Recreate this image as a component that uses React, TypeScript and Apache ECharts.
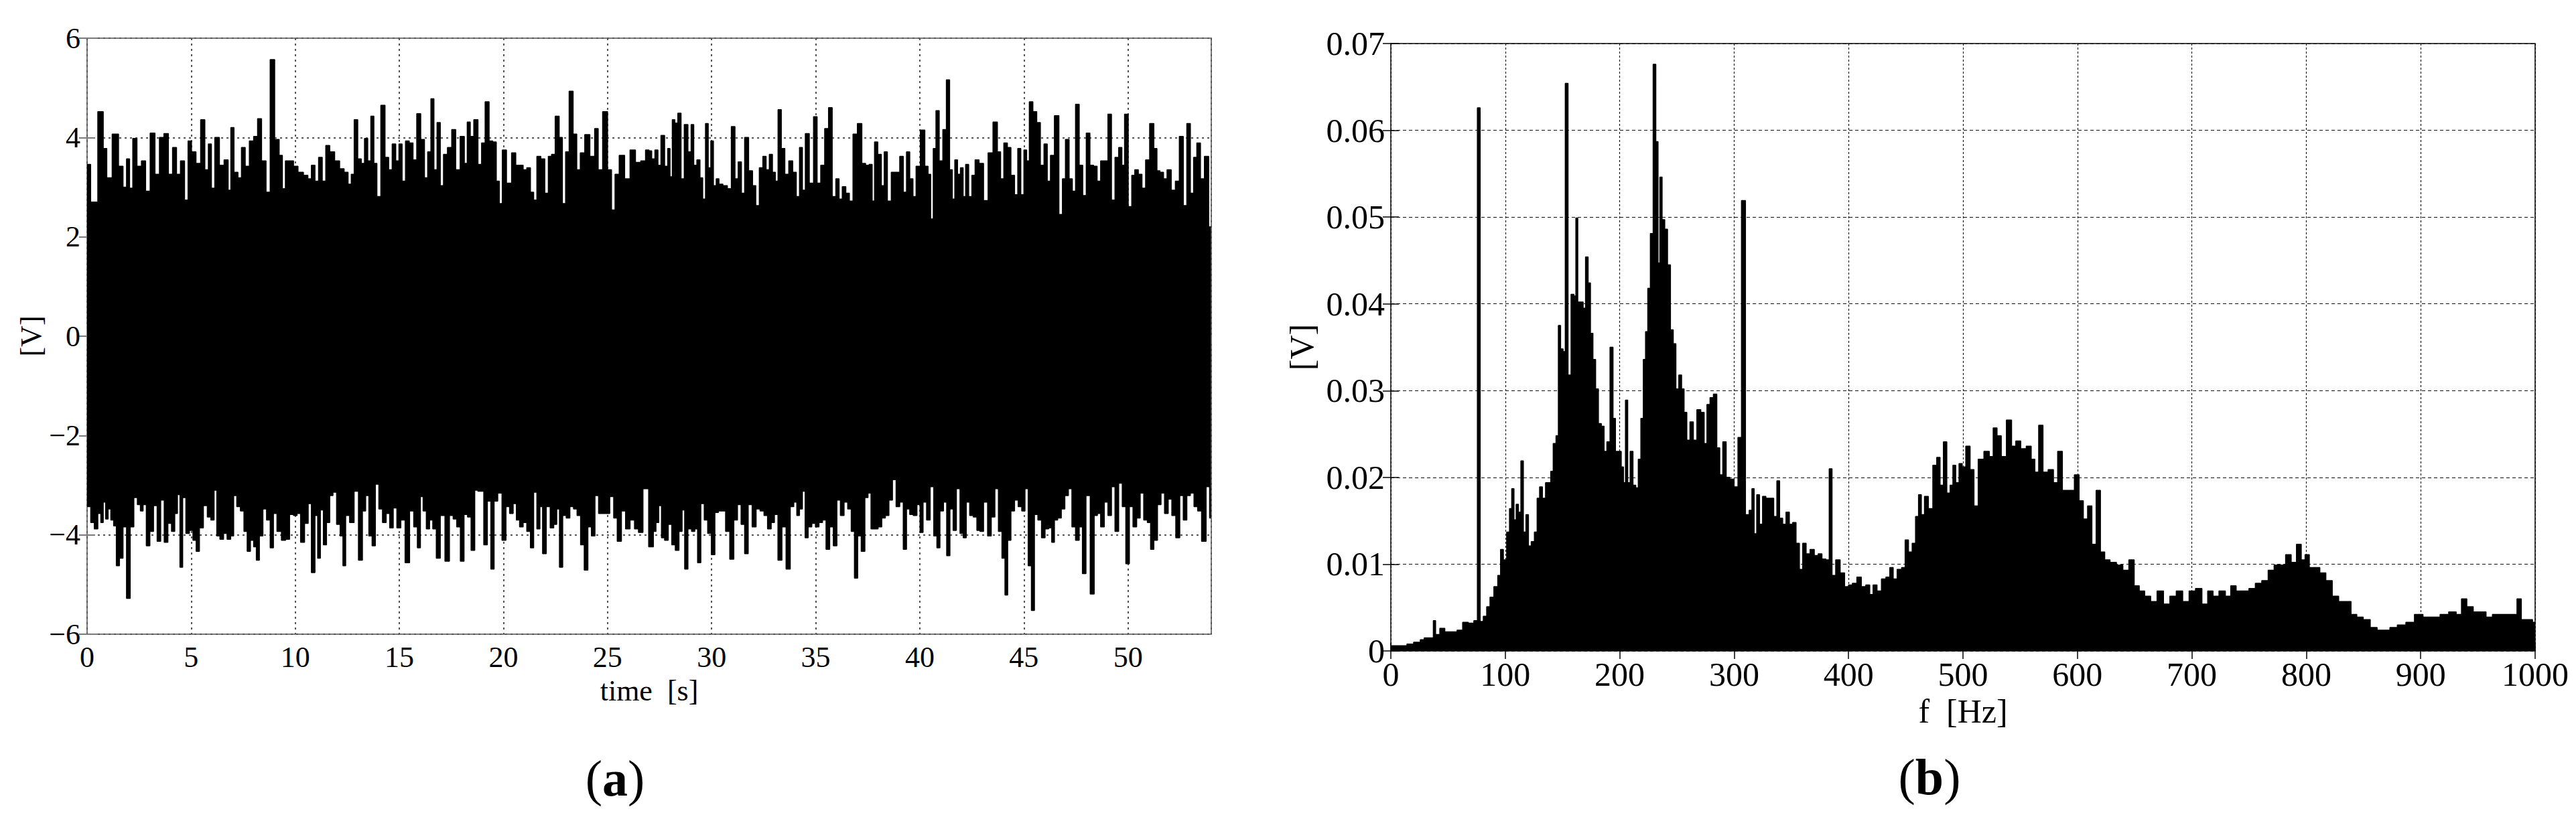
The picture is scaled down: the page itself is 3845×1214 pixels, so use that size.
import React, { useEffect, useRef } from 'react';
import * as echarts from 'echarts';

// Panel (a): time signal — upper and lower envelope peaks [time s, value V]
const signalUpper: [number, number][] = [
  [0, 3.46], [0.34, 2.7], [0.69, 4.52], [0.86, 3.78], [1.03, 3.19], [1.38, 4.07], [1.64, 3.42], [1.81, 3.0], [1.98, 3.57], [2.1, 2.98],
  [2.29, 3.98], [2.5, 3.42], [2.72, 3.53], [2.9, 2.92], [3.16, 4.09], [3.36, 3.26], [3.59, 4.0], [3.79, 4.08], [4.02, 3.26], [4.19, 3.8],
  [4.4, 3.26], [4.57, 3.53], [4.79, 2.74], [4.91, 3.93], [5.12, 3.71], [5.34, 3.48], [5.57, 4.36], [5.74, 3.35], [5.91, 3.87], [6.03, 2.98],
  [6.24, 4.0], [6.47, 3.44], [6.69, 3.55], [6.86, 2.94], [6.95, 4.2], [7.16, 3.3], [7.33, 3.19], [7.5, 3.8], [7.69, 3.42], [7.9, 3.93],
  [8.1, 4.02], [8.28, 4.38], [8.48, 3.53], [8.71, 2.9], [8.88, 5.57], [9.14, 3.96], [9.31, 3.64], [9.45, 2.97], [9.6, 3.53], [9.83, 3.53],
  [10.0, 3.42], [10.26, 3.3], [10.52, 3.24], [10.69, 3.17], [10.86, 3.44], [11.03, 3.12], [11.21, 3.6], [11.38, 3.12], [11.55, 3.84], [11.76, 3.71],
  [12.02, 3.53], [12.24, 3.37], [12.45, 3.3], [12.62, 3.06], [12.76, 3.26], [12.9, 4.36], [13.1, 3.57], [13.24, 3.48], [13.41, 3.98], [13.55, 3.53],
  [13.71, 4.43], [13.84, 3.48], [14.0, 2.81], [14.22, 4.65], [14.4, 3.6], [14.57, 3.35], [14.74, 3.87], [14.91, 3.53], [15.05, 3.87], [15.21, 3.12],
  [15.38, 3.93], [15.57, 3.89], [15.74, 3.55], [15.93, 4.48], [16.12, 3.96], [16.29, 3.19], [16.43, 3.71], [16.6, 4.78], [16.72, 3.35], [16.9, 4.3],
  [17.03, 3.03], [17.21, 3.66], [17.41, 3.8], [17.62, 4.16], [17.79, 3.35], [18.05, 4.02], [18.19, 3.48], [18.33, 4.31], [18.48, 4.02], [18.67, 4.36],
  [18.88, 3.46], [19.02, 3.89], [19.22, 4.72], [19.4, 3.93], [19.57, 3.91], [19.74, 3.12], [19.86, 2.67], [20.03, 3.75], [20.26, 3.08], [20.52, 3.69],
  [20.66, 3.44], [20.86, 3.44], [21.03, 3.35], [21.21, 3.39], [21.38, 2.9], [21.52, 2.74], [21.69, 3.62], [21.9, 3.57], [22.07, 2.88], [22.24, 3.62],
  [22.38, 3.66], [22.59, 4.43], [22.76, 4.0], [22.9, 2.67], [23.07, 3.71], [23.24, 4.93], [23.45, 4.07], [23.59, 3.35], [23.79, 3.69], [24.02, 4.06],
  [24.28, 3.62], [24.48, 4.18], [24.62, 3.35], [24.91, 4.52], [25.09, 3.35], [25.29, 2.54], [25.43, 3.26], [25.69, 3.64], [25.95, 3.17], [26.21, 3.75],
  [26.47, 3.5], [26.72, 3.53], [26.93, 3.75], [27.05, 3.73], [27.19, 3.57], [27.36, 3.75], [27.48, 3.44], [27.65, 4.04], [27.83, 3.42], [27.95, 3.78],
  [28.05, 3.21], [28.17, 4.36], [28.29, 4.29], [28.46, 4.49], [28.6, 3.17], [28.77, 4.26], [28.95, 3.71], [29.08, 4.26], [29.2, 3.44], [29.38, 3.55],
  [29.5, 3.19], [29.64, 2.76], [29.77, 4.28], [29.9, 3.39], [30.02, 3.93], [30.15, 3.03], [30.29, 3.17], [30.41, 3.06], [30.67, 3.03], [30.84, 2.97],
  [31.05, 4.22], [31.19, 3.17], [31.36, 3.51], [31.5, 2.88], [31.67, 4.0], [31.88, 3.33], [32.05, 3.03], [32.19, 2.63], [32.39, 3.39], [32.53, 3.62],
  [32.7, 3.35], [32.84, 3.66], [33.0, 3.3], [33.12, 3.12], [33.26, 4.56], [33.43, 3.78], [33.6, 3.26], [33.81, 3.53], [33.98, 3.3], [34.15, 2.81],
  [34.29, 3.8], [34.43, 2.94], [34.57, 4.08], [34.81, 3.08], [34.98, 4.42], [35.15, 3.08], [35.33, 3.44], [35.53, 4.18], [35.7, 4.6], [35.88, 2.81],
  [36.05, 3.17], [36.19, 2.76], [36.36, 3.01], [36.53, 2.88], [36.7, 2.72], [36.88, 4.07], [37.12, 4.28], [37.31, 3.48], [37.48, 3.44], [37.65, 3.46],
  [37.77, 2.72], [37.88, 3.91], [38.08, 3.66], [38.22, 3.03], [38.36, 3.71], [38.52, 2.72], [38.74, 3.3], [38.95, 3.3], [39.12, 3.62], [39.29, 2.9],
  [39.43, 3.71], [39.6, 3.17], [39.74, 2.81], [39.9, 3.42], [40.15, 4.15], [40.33, 3.42], [40.46, 3.26], [40.58, 2.36], [40.71, 3.78], [40.84, 4.54],
  [41.02, 3.53], [41.19, 4.16], [41.36, 5.16], [41.5, 3.35], [41.62, 2.76], [41.74, 3.55], [41.88, 3.26], [42.02, 3.39], [42.14, 2.81], [42.26, 3.46],
  [42.43, 2.81], [42.57, 3.24], [42.74, 3.55], [42.95, 3.48], [43.17, 2.73], [43.39, 3.69], [43.64, 4.31], [43.81, 3.71], [43.95, 3.17], [44.12, 3.89],
  [44.29, 3.8], [44.46, 3.24], [44.64, 2.85], [44.77, 3.78], [44.93, 2.85], [45.07, 3.75], [45.19, 3.53], [45.33, 4.72], [45.53, 4.52], [45.7, 4.3],
  [45.88, 3.44], [46.05, 3.87], [46.19, 3.12], [46.36, 3.64], [46.57, 4.44], [46.79, 2.45], [46.91, 3.17], [47.08, 3.96], [47.26, 3.17], [47.39, 2.92],
  [47.57, 4.67], [47.74, 3.44], [47.91, 2.83], [48.08, 4.09], [48.26, 3.44], [48.43, 3.42], [48.6, 3.12], [48.77, 3.53], [48.95, 3.53], [49.12, 4.47],
  [49.29, 2.74], [49.46, 3.6], [49.64, 3.8], [49.77, 3.44], [49.9, 4.47], [50.12, 2.61], [50.24, 3.24], [50.41, 3.35], [50.58, 3.26], [50.76, 2.98],
  [50.93, 3.55], [51.15, 4.28], [51.33, 3.78], [51.45, 3.33], [51.62, 3.3], [51.79, 3.17], [51.96, 3.35], [52.19, 2.94], [52.36, 3.12], [52.57, 4.02],
  [52.74, 2.63], [52.91, 4.28], [53.08, 2.88], [53.22, 3.6], [53.39, 3.89], [53.57, 3.17], [53.77, 3.62], [53.98, 2.2],
];

const signalLower: [number, number][] = [
  [0.0, -3.43], [0.09, -3.43], [0.26, -3.75], [0.43, -3.88], [0.6, -3.57], [0.72, -3.75], [0.83, -3.34], [0.95, -3.68], [1.07, -3.48], [1.21, -3.7], [1.34, -3.82],
  [1.47, -4.62], [1.64, -4.47], [1.81, -3.84], [1.98, -5.28], [2.16, -3.84], [2.33, -3.25], [2.5, -3.39], [2.62, -3.52], [2.76, -3.39], [2.93, -4.22],
  [3.1, -3.93], [3.28, -3.41], [3.45, -4.13], [3.62, -3.3], [3.79, -4.15], [3.97, -3.77], [4.14, -3.93], [4.28, -3.57], [4.4, -3.19], [4.52, -4.65],
  [4.66, -3.25], [4.83, -3.97], [5.0, -3.91], [5.17, -4.11], [5.31, -4.33], [5.48, -3.86], [5.69, -3.41], [5.86, -3.64], [6.03, -3.7], [6.17, -3.1],
  [6.29, -4.02], [6.47, -4.09], [6.64, -3.97], [6.81, -4.09], [6.98, -4.02], [7.1, -3.21], [7.28, -3.43], [7.45, -3.52], [7.62, -3.93], [7.76, -4.33],
  [7.93, -4.11], [8.07, -4.24], [8.19, -4.51], [8.36, -4.02], [8.53, -3.48], [8.71, -3.7], [8.88, -4.26], [9.02, -3.57], [9.22, -3.93], [9.45, -4.11],
  [9.62, -4.09], [9.83, -3.59], [10.0, -3.61], [10.17, -3.57], [10.34, -4.15], [10.55, -3.77], [10.69, -3.37], [10.86, -4.76], [11.03, -3.61], [11.12, -4.47],
  [11.29, -3.5], [11.41, -4.2], [11.59, -3.75], [11.72, -3.21], [11.9, -3.14], [12.07, -3.79], [12.24, -4.02], [12.34, -4.62], [12.5, -3.61], [12.72, -3.75],
  [12.93, -3.12], [13.14, -4.51], [13.31, -3.52], [13.45, -3.21], [13.62, -4.02], [13.76, -4.22], [13.93, -2.98], [14.1, -3.48], [14.28, -3.75], [14.45, -3.57],
  [14.62, -3.86], [14.79, -3.46], [14.97, -3.86], [15.17, -3.7], [15.38, -4.56], [15.6, -3.52], [15.78, -3.84], [15.95, -4.26], [16.07, -3.23], [16.21, -3.52],
  [16.38, -3.88], [16.52, -3.7], [16.69, -3.88], [16.86, -4.47], [17.07, -3.61], [17.31, -4.53], [17.5, -3.61], [17.67, -3.68], [17.84, -3.84], [18.02, -4.53],
  [18.19, -3.59], [18.36, -3.64], [18.53, -4.31], [18.71, -3.1], [18.83, -3.12], [18.97, -3.12], [19.14, -4.2], [19.31, -3.32], [19.48, -4.69], [19.62, -3.32],
  [19.83, -3.16], [20.03, -4.11], [20.21, -3.43], [20.38, -3.57], [20.55, -3.37], [20.69, -3.7], [20.86, -3.84], [21.03, -3.75], [21.21, -3.93], [21.38, -4.26],
  [21.52, -3.14], [21.69, -3.88], [21.81, -3.43], [21.95, -4.38], [22.16, -3.43], [22.33, -3.86], [22.5, -3.79], [22.62, -3.48], [22.76, -4.65], [22.93, -3.61],
  [23.1, -3.66], [23.28, -3.43], [23.45, -3.48], [23.62, -3.61], [23.79, -4.2], [23.97, -4.71], [24.14, -3.84], [24.31, -4.02], [24.48, -3.21], [24.66, -3.57],
  [24.83, -3.57], [25.0, -3.57], [25.21, -3.23], [25.38, -3.66], [25.55, -4.13], [25.78, -3.52], [25.95, -3.88], [26.21, -3.7], [26.38, -3.88], [26.59, -3.95],
  [26.81, -3.07], [27.14, -4.24], [27.26, -3.93], [27.39, -3.75], [27.53, -3.41], [27.65, -4.06], [27.83, -4.11], [28.0, -3.79], [28.17, -4.2], [28.34, -4.31],
  [28.52, -3.93], [28.64, -3.5], [28.77, -4.69], [28.95, -3.88], [29.12, -3.93], [29.26, -3.88], [29.39, -4.56], [29.57, -3.37], [29.72, -3.7], [29.9, -3.97],
  [30.07, -4.4], [30.24, -3.55], [30.41, -3.52], [30.58, -3.52], [30.76, -3.93], [30.98, -4.49], [31.15, -3.7], [31.33, -3.39], [31.5, -3.79], [31.67, -4.38],
  [31.84, -3.39], [32.05, -3.84], [32.22, -3.48], [32.43, -3.52], [32.6, -3.61], [32.77, -3.88], [32.95, -3.75], [33.08, -3.59], [33.29, -4.51], [33.46, -3.84],
  [33.69, -4.69], [33.86, -3.43], [34.03, -3.34], [34.15, -3.61], [34.29, -3.48], [34.43, -3.12], [34.55, -4.06], [34.72, -3.84], [34.9, -3.77], [35.07, -3.84],
  [35.24, -3.75], [35.41, -3.7], [35.58, -4.29], [35.76, -3.84], [35.93, -4.22], [36.1, -3.3], [36.27, -3.61], [36.45, -3.34], [36.62, -3.48], [36.79, -3.93],
  [36.93, -4.87], [37.1, -4.02], [37.27, -4.33], [37.45, -3.25], [37.57, -3.16], [37.74, -3.88], [37.91, -3.88], [38.08, -3.84], [38.26, -3.66], [38.43, -3.61],
  [38.6, -3.3], [38.77, -2.89], [38.95, -3.43], [39.12, -3.34], [39.29, -4.29], [39.43, -3.48], [39.6, -3.59], [39.77, -3.61], [39.95, -3.39], [40.07, -3.95],
  [40.24, -3.34], [40.41, -3.7], [40.58, -3.03], [40.76, -4.02], [40.88, -4.26], [41.05, -3.52], [41.22, -3.34], [41.36, -4.42], [41.53, -3.48], [41.67, -3.91],
  [41.84, -3.07], [42.02, -3.97], [42.15, -4.06], [42.31, -3.34], [42.48, -3.61], [42.65, -3.64], [42.83, -3.91], [42.95, -3.93], [43.17, -3.34], [43.34, -4.02],
  [43.52, -3.64], [43.69, -3.07], [43.86, -3.93], [44.03, -4.47], [44.15, -5.21], [44.29, -4.11], [44.46, -3.52], [44.64, -3.3], [44.81, -3.43], [44.98, -3.52],
  [45.12, -3.07], [45.29, -4.62], [45.43, -5.52], [45.58, -3.59], [45.76, -3.7], [45.93, -4.06], [46.1, -3.88], [46.27, -3.86], [46.4, -4.15], [46.53, -3.7],
  [46.71, -3.66], [46.88, -3.48], [47.05, -3.21], [47.22, -3.07], [47.39, -3.84], [47.57, -4.11], [47.74, -3.84], [47.88, -4.78], [48.08, -3.21], [48.29, -5.19],
  [48.46, -3.61], [48.6, -3.57], [48.77, -3.84], [48.95, -3.34], [49.12, -3.61], [49.29, -3.03], [49.46, -3.93], [49.64, -2.96], [49.81, -3.43], [49.98, -4.58],
  [50.15, -3.43], [50.33, -3.84], [50.5, -3.66], [50.67, -3.16], [50.84, -3.7], [51.02, -3.75], [51.15, -4.29], [51.33, -4.11], [51.5, -3.39], [51.67, -3.16],
  [51.84, -3.57], [52.02, -3.28], [52.19, -3.61], [52.4, -4.06], [52.57, -3.21], [52.74, -3.7], [52.91, -3.21], [53.08, -3.16], [53.26, -3.43], [53.43, -3.52],
  [53.64, -4.13], [53.86, -3.03], [53.98, -3.66],
];

// Panel (b): amplitude spectrum envelope [f Hz, value V]
const spectrum: [number, number][] = [
  [0, 0.0006], [12.1, 0.0006], [16.0, 0.0008], [23.8, 0.001], [27.7, 0.0013], [30.6, 0.0015], [36.5, 0.0015], [37.8, 0.0035], [40.4, 0.0019], [45.2, 0.0026],
  [49.1, 0.0022], [55.0, 0.0022], [60.8, 0.0024], [64.7, 0.0033], [70.6, 0.0032], [74.5, 0.0035], [76.8, 0.0626], [79.3, 0.0034], [82.3, 0.004], [85.2, 0.0051],
  [88.1, 0.0062], [92.0, 0.0074], [94.9, 0.0087], [96.9, 0.0117], [99.8, 0.0105], [102.7, 0.0137], [104.7, 0.0164], [106.6, 0.0187], [108.6, 0.0151], [110.5, 0.0169],
  [112.5, 0.016], [114.8, 0.0219], [116.8, 0.0137], [119.3, 0.0157], [121.2, 0.0121], [124.2, 0.0126], [126.7, 0.0137], [129.0, 0.0176], [131.0, 0.0189], [133.9, 0.0176],
  [136.5, 0.0194], [138.8, 0.0194], [140.7, 0.0207], [143.1, 0.0239], [145.6, 0.0248], [147.2, 0.0375], [149.5, 0.0348], [151.5, 0.0345], [153.4, 0.0654], [156.3, 0.0318],
  [158.7, 0.0411], [161.2, 0.0409], [162.2, 0.0499], [164.5, 0.0402], [167.1, 0.0402], [169.0, 0.0395], [171.3, 0.0454], [173.5, 0.0424], [175.4, 0.0366], [177.8, 0.0336],
  [180.1, 0.0302], [182.7, 0.0262], [185.2, 0.0259], [187.5, 0.023], [190.1, 0.0241], [193.0, 0.035], [195.3, 0.0268], [197.3, 0.023], [200.2, 0.023], [202.5, 0.0212],
  [204.1, 0.0194], [206.0, 0.0289], [208.0, 0.0194], [210.3, 0.023], [212.9, 0.0191], [215.2, 0.0188], [217.3, 0.0221], [219.7, 0.0268], [221.6, 0.0336], [223.6, 0.0368],
  [225.5, 0.0418], [228.1, 0.0481], [230.4, 0.0676], [232.7, 0.0587], [234.3, 0.0447], [235.9, 0.0546], [238.2, 0.0497], [240.5, 0.0486], [243.1, 0.0445], [245.6, 0.037],
  [248.0, 0.0354], [250.2, 0.0302], [253.1, 0.0318], [255.1, 0.0302], [257.4, 0.0275], [259.9, 0.0243], [262.9, 0.0264], [265.8, 0.0243], [269.1, 0.0278], [272.6, 0.0275],
  [275.0, 0.0239], [277.5, 0.0284], [280.4, 0.0292], [283.4, 0.0296], [286.3, 0.0234], [288.6, 0.0203], [291.6, 0.0241], [294.5, 0.02], [298.0, 0.0198], [301.9, 0.0189],
  [304.8, 0.0246], [308.1, 0.0519], [311.7, 0.0157], [314.6, 0.0162], [316.5, 0.0187], [318.5, 0.0135], [321.0, 0.018], [323.4, 0.0146], [326.3, 0.0178], [329.2, 0.0176],
  [333.1, 0.0176], [336.1, 0.0155], [338.6, 0.0196], [340.9, 0.0153], [343.9, 0.0146], [346.8, 0.016], [349.7, 0.0146], [352.6, 0.0148], [355.6, 0.0124], [358.5, 0.0094],
  [361.4, 0.0124], [364.4, 0.0112], [368.3, 0.0117], [371.8, 0.011], [375.1, 0.0112], [378.4, 0.0106], [381.9, 0.0105], [384.3, 0.021], [386.8, 0.0087], [390.7, 0.0105],
  [394.6, 0.009], [398.5, 0.0074], [401.4, 0.0076], [405.3, 0.0078], [409.2, 0.0085], [413.1, 0.0074], [417.0, 0.0076], [420.0, 0.0065], [422.9, 0.0076], [426.8, 0.0069],
  [430.7, 0.0083], [434.6, 0.0085], [437.5, 0.0096], [440.5, 0.0083], [444.4, 0.0094], [448.3, 0.0096], [450.6, 0.0128], [454.1, 0.0114], [457.1, 0.0124], [460.0, 0.0155],
  [462.3, 0.018], [464.9, 0.0157], [467.8, 0.0178], [471.7, 0.0164], [475.6, 0.0214], [478.5, 0.0223], [481.4, 0.0191], [484.4, 0.0241], [487.3, 0.0182], [490.2, 0.0191],
  [492.2, 0.0214], [495.1, 0.0194], [498.0, 0.0216], [500.6, 0.0212], [504.3, 0.0236], [508.1, 0.0209], [511.1, 0.0167], [515.5, 0.0221], [521.1, 0.023], [524.9, 0.0224],
  [527.9, 0.0257], [531.6, 0.0248], [535.3, 0.0224], [540.6, 0.0266], [544.3, 0.0236], [548.0, 0.0242], [552.9, 0.0233], [557.7, 0.0236], [561.5, 0.0221], [564.1, 0.0206],
  [568.2, 0.026], [571.6, 0.0206], [577.2, 0.0209], [580.9, 0.0194], [584.6, 0.023], [589.1, 0.0185], [595.1, 0.0185], [599.6, 0.0203], [603.3, 0.0173], [607.0, 0.0152],
  [610.8, 0.0167], [614.5, 0.0123], [618.2, 0.0185], [622.0, 0.0114], [625.7, 0.0105], [631.3, 0.0102], [636.9, 0.0099], [642.5, 0.0093], [647.4, 0.0105], [651.8, 0.0075],
  [656.3, 0.0069], [661.2, 0.0063], [666.8, 0.0057], [672.4, 0.0069], [678.0, 0.0054], [683.6, 0.0063], [689.2, 0.0069], [694.8, 0.0057], [700.4, 0.0069], [706.0, 0.0072],
  [711.6, 0.0054], [716.1, 0.0069], [720.9, 0.0063], [726.5, 0.0069], [732.1, 0.0063], [735.9, 0.0075], [741.5, 0.0069], [747.1, 0.0069], [752.7, 0.0072], [758.3, 0.0078],
  [763.9, 0.0081], [769.5, 0.0093], [774.3, 0.0099], [779.5, 0.0099], [784.4, 0.0111], [789.2, 0.0102], [793.7, 0.0123], [797.5, 0.0105], [800.4, 0.0111], [804.9, 0.0096],
  [809.4, 0.0096], [814.3, 0.009], [819.9, 0.0081], [825.5, 0.0063], [831.1, 0.0057], [836.7, 0.0057], [841.5, 0.0042], [846.8, 0.0039], [852.7, 0.0036], [859.1, 0.0027],
  [864.7, 0.0024], [870.3, 0.0024], [875.9, 0.0027], [883.3, 0.003], [890.8, 0.0033], [898.3, 0.0042], [905.7, 0.0039], [913.2, 0.0039], [920.7, 0.0042], [928.2, 0.0045],
  [933.8, 0.0042], [937.5, 0.006], [943.1, 0.0051], [948.7, 0.0045], [954.3, 0.0045], [959.9, 0.0039], [965.5, 0.0042], [971.1, 0.0042], [976.7, 0.0042], [982.3, 0.0042],
  [986.0, 0.006], [989.8, 0.0036], [995.4, 0.0036], [1000, 0.0033],
];

const FONT = '"Liberation Serif", "Times New Roman", Times, serif';

export default function App() {
  const ref = useRef<HTMLDivElement>(null);
  useEffect(() => {
    if (!ref.current) return;
    const chart = echarts.init(ref.current, null, { renderer: 'svg' });
    const minus = (v: number) => String(v).replace('-', '\u2212');
    const gridA = '#555';
    const borderA = '#7a7a7a';
    const labA = { fontFamily: FONT, fontSize: 44, color: '#000' };
    const labB = { fontFamily: FONT, fontSize: 50, color: '#000' };
    const option: any = {
      animation: false,
      backgroundColor: '#ffffff',
      grid: [
        { left: 130, top: 57, width: 1678, height: 890, show: true, borderColor: borderA, borderWidth: 2, backgroundColor: 'transparent' },
        { left: 2076, top: 65, width: 1708, height: 907, show: true, borderColor: '#000', borderWidth: 1.5, backgroundColor: 'transparent' },
      ],
      xAxis: [
        {
          type: 'value', gridIndex: 0, min: 0, max: 54, interval: 5,
          axisLine: { show: false },
          axisTick: { inside: true, length: 12, lineStyle: { color: borderA, width: 2 } },
          axisLabel: { ...labA, margin: 12, showMaxLabel: false, formatter: (v: number) => String(v) },
          splitLine: { show: true, lineStyle: { type: [3, 5], color: gridA, width: 2 } },
          name: 'time  [s]', nameLocation: 'middle', nameGap: 62,
          nameTextStyle: { ...labA },
        },
        {
          type: 'value', gridIndex: 0, position: 'top', min: 0, max: 54, interval: 5,
          axisLine: { show: false },
          axisTick: { inside: true, length: 12, lineStyle: { color: borderA, width: 2 } },
          axisLabel: { show: false }, splitLine: { show: false },
        },
        {
          type: 'value', gridIndex: 1, min: 0, max: 1000, interval: 100,
          axisLine: { show: false },
          axisTick: { inside: true, length: 12, lineStyle: { color: '#000', width: 1.5 } },
          axisLabel: { ...labB, margin: 10, formatter: (v: number) => String(v) },
          splitLine: { show: true, lineStyle: { type: [3, 3], color: '#111', width: 1.2 } },
          name: 'f  [Hz]', nameLocation: 'middle', nameGap: 62,
          nameTextStyle: { ...labB },
        },
        {
          type: 'value', gridIndex: 1, position: 'top', min: 0, max: 1000, interval: 100,
          axisLine: { show: false },
          axisTick: { inside: true, length: 12, lineStyle: { color: '#000', width: 1.5 } },
          axisLabel: { show: false }, splitLine: { show: false },
        },
      ],
      yAxis: [
        {
          type: 'value', gridIndex: 0, min: -6, max: 6, interval: 2,
          axisLine: { show: false },
          axisTick: { inside: true, length: 12, lineStyle: { color: borderA, width: 2 } },
          axisLabel: { ...labA, margin: 10, formatter: minus },
          splitLine: { show: true, lineStyle: { type: [3, 5], color: gridA, width: 2 } },
          name: '[V]', nameLocation: 'middle', nameGap: 62, nameRotate: 90,
          nameTextStyle: { ...labA },
        },
        {
          type: 'value', gridIndex: 0, position: 'right', min: -6, max: 6, interval: 2,
          axisLine: { show: false },
          axisTick: { inside: true, length: 12, lineStyle: { color: borderA, width: 2 } },
          axisLabel: { show: false }, splitLine: { show: false },
        },
        {
          type: 'value', gridIndex: 1, min: 0, max: 0.07, interval: 0.01,
          axisLine: { show: false },
          axisTick: { inside: true, length: 12, lineStyle: { color: '#000', width: 1.5 } },
          axisLabel: { ...labB, margin: 9, formatter: (v: number) => (v === 0 ? '0' : v.toFixed(2)) },
          splitLine: { show: true, lineStyle: { type: [5, 4], color: '#111', width: 1.2 } },
          name: '[V]', nameLocation: 'middle', nameGap: 108, nameRotate: 90,
          nameTextStyle: { ...labB },
        },
        {
          type: 'value', gridIndex: 1, position: 'right', min: 0, max: 0.07, interval: 0.01,
          axisLine: { show: false },
          axisTick: { inside: true, length: 12, lineStyle: { color: '#000', width: 1.5 } },
          axisLabel: { show: false }, splitLine: { show: false },
        },
      ],
      series: [
        {
          type: 'line', xAxisIndex: 0, yAxisIndex: 0, data: signalUpper, step: 'middle',
          symbol: 'none', lineStyle: { color: '#000', width: 1.5 },
          areaStyle: { color: '#000', opacity: 1 }, silent: true,
        },
        {
          type: 'line', xAxisIndex: 0, yAxisIndex: 0, data: signalLower, step: 'middle',
          symbol: 'none', lineStyle: { color: '#000', width: 1.5 },
          areaStyle: { color: '#000', opacity: 1 }, silent: true,
        },
        {
          type: 'line', xAxisIndex: 2, yAxisIndex: 2, data: spectrum, step: 'middle',
          symbol: 'none', lineStyle: { color: '#000', width: 1.5 },
          areaStyle: { color: '#000', opacity: 1 }, silent: true,
        },
      ],
      graphic: [
        {
          type: 'text', x: 918, y: 1162,
          style: {
            text: '{p|(}{b|a}{p|)}', align: 'center', verticalAlign: 'middle',
            rich: {
              p: { fontFamily: FONT, fontSize: 76, fill: '#000' },
              b: { fontFamily: FONT, fontSize: 76, fontWeight: 'bold', fill: '#000' },
            },
          },
        },
        {
          type: 'text', x: 2880, y: 1160,
          style: {
            text: '{p|(}{b|b}{p|)}', align: 'center', verticalAlign: 'middle',
            rich: {
              p: { fontFamily: FONT, fontSize: 76, fill: '#000' },
              b: { fontFamily: FONT, fontSize: 76, fontWeight: 'bold', fill: '#000' },
            },
          },
        },
      ],
    };
    chart.setOption(option);
    return () => chart.dispose();
  }, []);
  return (
    <div
      ref={ref}
      style={{ position: 'absolute', left: 0, top: 0, width: 3845, height: 1214, background: '#fff' }}
    />
  );
}
